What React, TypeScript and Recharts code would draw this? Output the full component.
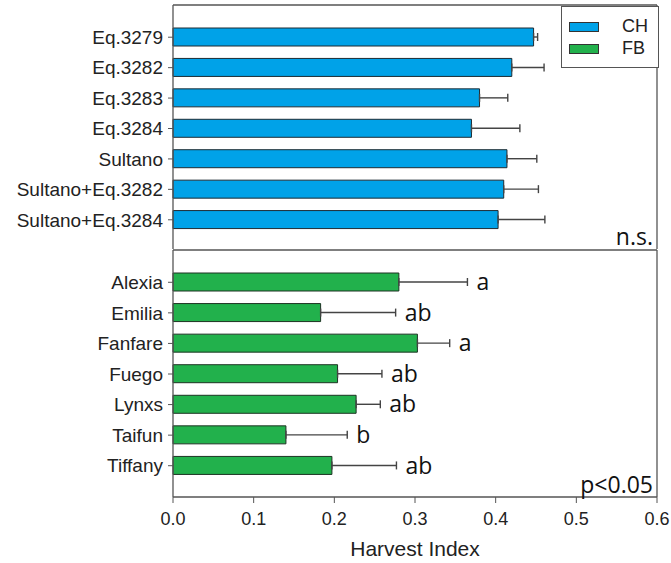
import React from 'react';
import {
  BarChart,
  Bar,
  XAxis,
  YAxis,
  ErrorBar,
  LabelList,
  ReferenceLine,
  Label,
} from 'recharts';

// CH (top panel)
const chNames = ['Eq.3279', 'Eq.3282', 'Eq.3283', 'Eq.3284', 'Sultano', 'Sultano+Eq.3282', 'Sultano+Eq.3284'];
const chValues = [0.447, 0.42, 0.38, 0.37, 0.414, 0.41, 0.403];
const chErrors = [0.005, 0.04, 0.035, 0.06, 0.037, 0.043, 0.058];

// FB (bottom panel)
const fbNames = ['Alexia', 'Emilia', 'Fanfare', 'Fuego', 'Lynxs', 'Taifun', 'Tiffany'];
const fbValues = [0.28, 0.183, 0.303, 0.204, 0.227, 0.14, 0.197];
const fbErrors = [0.085, 0.093, 0.04, 0.055, 0.03, 0.076, 0.08];
const fbLetters = ['a', 'ab', 'a', 'ab', 'ab', 'b', 'ab'];

const xTicks = [0, 0.1, 0.2, 0.3, 0.4, 0.5, 0.6];

const series = [
  { name: 'CH', color: '#00a2e8' },
  { name: 'FB', color: '#22b14c' },
];

const chData = chNames.map((name, i) => ({ name, value: chValues[i], err: [0, chErrors[i]] }));
const fbData = fbNames.map((name, i) => ({
  name,
  value: fbValues[i],
  err: [0, fbErrors[i]],
  gap: fbErrors[i],
  letter: fbLetters[i],
}));

const axisColor = '#555';
const axisLine = { stroke: axisColor, strokeWidth: 1.3 };
const labelFont = { fontFamily: '"Liberation Sans", Arial, sans-serif', fontSize: 19, fill: '#222' };
const tickFont = { fontFamily: '"Liberation Sans", Arial, sans-serif', fontSize: 18, fill: '#222' };
const noteFont = { fontFamily: '"Open Sans", sans-serif', fontSize: 23, fill: '#111' };

function LegendBox() {
  return (
    <div
      style={{
        position: 'absolute',
        left: 561,
        top: 6,
        width: 96,
        height: 60,
        border: `1px solid ${axisColor}`,
        background: '#fff',
        fontFamily: '"Liberation Sans", Arial, sans-serif',
        fontSize: 18,
        color: '#222',
      }}
    >
      {series.map((s, i) => (
        <div key={s.name}>
          <div
            style={{
              position: 'absolute',
              left: 7,
              top: 15 + i * 22,
              width: 28,
              height: 8,
              background: s.color,
              border: '1px solid #333',
            }}
          />
          <span style={{ position: 'absolute', left: 60, top: 9 + i * 22, lineHeight: '20px' }}>{s.name}</span>
        </div>
      ))}
    </div>
  );
}

export default function App() {
  return (
    <div style={{ position: 'absolute', left: 0, top: 0, width: 671, height: 563, background: '#fff' }}>
      <div style={{ position: 'absolute', left: 0, top: 0 }}>
        <BarChart
          width={671}
          height={262}
          data={chData}
          layout="vertical"
          margin={{ top: 4, right: 13, bottom: 13, left: 0 }}
        >
          <XAxis
            type="number"
            orientation="top"
            domain={[0, 0.6]}
            ticks={xTicks}
            height={1}
            tick={false}
            tickLine={false}
            axisLine={axisLine}
          />
          <YAxis
            type="category"
            dataKey="name"
            width={173}
            interval={0}
            tickSize={5}
            tickMargin={5}
            padding={{ top: 17, bottom: 14 }}
            tick={labelFont}
            tickLine={{ stroke: axisColor }}
            axisLine={axisLine}
          />
          <YAxis
            yAxisId="r"
            type="category"
            dataKey="name"
            orientation="right"
            width={1}
            tick={false}
            tickLine={false}
            axisLine={axisLine}
          />
          <ReferenceLine x={0.6} stroke="none" ifOverflow="visible">
            <Label value="n.s." position="insideBottomRight" offset={4} style={noteFont} />
          </ReferenceLine>
          <Bar dataKey="value" fill={series[0].color} stroke="#1d2b33" strokeWidth={1} barSize={18} isAnimationActive={false}>
            <ErrorBar dataKey="err" direction="x" width={4} stroke="#444" strokeWidth={1.4} />
          </Bar>
        </BarChart>
      </div>
      <div style={{ position: 'absolute', left: 0, top: 249 }}>
        <BarChart
          width={671}
          height={314}
          data={fbData}
          layout="vertical"
          margin={{ top: 0, right: 13, bottom: 6, left: 0 }}
        >
          <XAxis
            type="number"
            domain={[0, 0.6]}
            ticks={xTicks}
            tickFormatter={(v: number) => v.toFixed(1)}
            height={60}
            tickSize={6}
            tickMargin={9}
            tick={tickFont}
            tickLine={{ stroke: axisColor }}
            axisLine={axisLine}
          >
            <Label
              value="Harvest Index"
              position="insideBottom"
              offset={1}
              style={{ fontFamily: '"Liberation Sans", Arial, sans-serif', fontSize: 21, fill: '#222' }}
            />
          </XAxis>
          <XAxis
            xAxisId="t"
            type="number"
            orientation="top"
            domain={[0, 0.6]}
            height={1}
            tick={false}
            tickLine={false}
            axisLine={axisLine}
          />
          <YAxis
            type="category"
            dataKey="name"
            width={173}
            interval={0}
            tickSize={5}
            tickMargin={5}
            padding={{ top: 17, bottom: 16 }}
            tick={labelFont}
            tickLine={{ stroke: axisColor }}
            axisLine={axisLine}
          />
          <YAxis
            yAxisId="r"
            type="category"
            dataKey="name"
            orientation="right"
            width={1}
            tick={false}
            tickLine={false}
            axisLine={axisLine}
          />
          <ReferenceLine x={0.6} stroke="none" ifOverflow="visible">
            <Label value="p<0.05" position="insideBottomRight" offset={4} style={noteFont} />
          </ReferenceLine>
          <Bar dataKey="value" stackId="s" fill={series[1].color} stroke="#1d3323" strokeWidth={1} barSize={18} isAnimationActive={false}>
            <ErrorBar dataKey="err" direction="x" width={4} stroke="#444" strokeWidth={1.4} />
          </Bar>
          <Bar dataKey="gap" stackId="s" fill="none" stroke="none" barSize={18} isAnimationActive={false}>
            <LabelList dataKey="letter" position="right" offset={9} style={noteFont} />
          </Bar>
        </BarChart>
      </div>
      <LegendBox />
    </div>
  );
}
